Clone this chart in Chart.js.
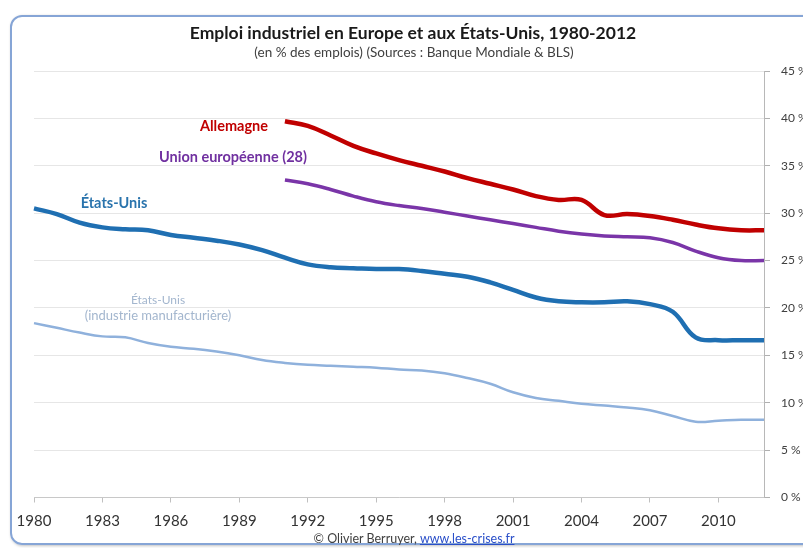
<!DOCTYPE html>
<html>
<head>
<meta charset="utf-8">
<script src="https://cdn.jsdelivr.net/npm/chart.js@4"></script>
<style>
    body { margin: 0; background: #fff; overflow: hidden; }
    #wrap { position: relative; width: 803px; height: 548px; overflow: hidden; }
    #frame {
        position: absolute; left: 10px; top: 15px; width: 840px; height: 526px;
        border: 2px solid #86a5d6; border-radius: 12px;
        box-shadow: 1px 1px 3px rgba(0, 0, 0, 0.25);
    }
    #chart { position: absolute; left: 0; top: 0; }
    #footer {
        position: absolute; left: 0; width: 828px; top: 531px; text-align: center;
        font: 12.5px Lato, sans-serif; color: #404040;
    }
    #footer a { color: #2a4fc9; text-decoration: underline; }
</style>
</head>
<body>
<div id="wrap">
    <div id="frame"></div>
    <canvas id="chart" width="803" height="548"></canvas>
    <div id="footer">© Olivier Berruyer, <a href="#">www.les-crises.fr</a></div>
</div>
<script>
// Years 1980-2012
const years = ['1980', '1981', '1982', '1983', '1984', '1985', '1986', '1987', '1988', '1989',
    '1990', '1991', '1992', '1993', '1994', '1995', '1996', '1997', '1998', '1999',
    '2000', '2001', '2002', '2003', '2004', '2005', '2006', '2007', '2008', '2009',
    '2010', '2011', '2012']

// Allemagne (from 1991)
const germany = [null, null, null, null, null, null, null, null, null, null, null,
    39.7, 39.2, 38.2, 37.1, 36.3, 35.6, 35.0, 34.4, 33.7, 33.1,
    32.5, 31.8, 31.4, 31.4, 29.8, 29.9, 29.7, 29.3, 28.8, 28.4, 28.2, 28.2]

// Union européenne (28) (from 1991)
const eu28 = [null, null, null, null, null, null, null, null, null, null, null,
    33.5, 33.1, 32.5, 31.8, 31.2, 30.8, 30.5, 30.1, 29.7, 29.3,
    28.9, 28.5, 28.1, 27.8, 27.6, 27.5, 27.4, 26.9, 26.0, 25.3, 25.0, 25.0]

// Etats-Unis (industrie)
const usIndustry = [30.5, 29.9, 29.0, 28.5, 28.3, 28.2, 27.7, 27.4, 27.1, 26.7,
    26.1, 25.3, 24.6, 24.3, 24.2, 24.1, 24.1, 23.9, 23.6, 23.3,
    22.7, 21.9, 21.1, 20.7, 20.6, 20.6, 20.7, 20.4, 19.6, 16.9, 16.6, 16.6, 16.6]

// Etats-Unis (industrie manufacturiere)
const usManuf = [18.4, 17.9, 17.4, 17.0, 16.9, 16.3, 15.9, 15.7, 15.4, 15.0,
    14.5, 14.2, 14.0, 13.9, 13.8, 13.7, 13.5, 13.4, 13.1, 12.6,
    12.0, 11.1, 10.5, 10.2, 9.9, 9.7, 9.5, 9.2, 8.6, 8.0, 8.1, 8.2, 8.2]

const title = 'Emploi industriel en Europe et aux États-Unis, 1980-2012'
const subtitle = '(en % des emplois) (Sources : Banque Mondiale & BLS)'

// texts drawn on the chart: [text, x, y, font, color]
const labels = [
    ['Allemagne', 234, 126, 'bold 14.5px Lato', '#c00000'],
    ['Union européenne (28)', 233, 157, 'bold 14.5px Lato', '#7030a0'],
    ['États-Unis', 114, 203, 'bold 14.5px Lato', '#2a74ad'],
    ['États-Unis', 158, 300, '12px Lato', '#a3b6ce'],
    ['(industrie manufacturière)', 158, 316, '13px Lato', '#a3b6ce']
]

const textPlugin = {
    id: 'texts',
    afterDraw(chart) {
        let ctx = chart.ctx
        ctx.save()
        ctx.textAlign = 'center'
        ctx.textBaseline = 'middle'
        ctx.fillStyle = '#1a1a1a'
        ctx.font = 'bold 17.5px Lato'
        ctx.fillText(title, 413, 33)
        ctx.fillStyle = '#404040'
        ctx.font = '13.5px Lato'
        ctx.fillText(subtitle, 414, 53)
        labels.forEach(function(l) {
            ctx.font = l[3]
            ctx.fillStyle = l[4]
            ctx.fillText(l[0], l[1], l[2])
        })
        ctx.restore()
    }
}

var ctx = document.getElementById('chart').getContext('2d')
var chart = new Chart(ctx, {
    type: 'line',
    data: {
        labels: years,
        datasets: [{
            label: 'Allemagne',
            data: germany,
            borderColor: '#c00000',
            borderWidth: 4.5
        }, {
            label: 'Union européenne (28)',
            data: eu28,
            borderColor: '#7a35a8',
            borderWidth: 3.5
        }, {
            label: 'États-Unis',
            data: usIndustry,
            borderColor: '#1f6fb2',
            borderWidth: 4.5
        }, {
            label: 'États-Unis (industrie manufacturière)',
            data: usManuf,
            borderColor: '#8fb1dc',
            borderWidth: 2.5
        }]
    },
    options: {
        responsive: false,
        animation: false,
        elements: {
            point: { radius: 0 },
            line: { tension: 0.4 }
        },
        layout: {
            padding: { top: 71, left: 34, right: 0, bottom: 0 }
        },
        plugins: {
            legend: { display: false },
            tooltip: { enabled: false }
        },
        scales: {
            x: {
                afterFit: function(scale) { scale.height = 50.5 },
                grid: {
                    drawOnChartArea: false,
                    tickLength: 5,
                    color: function(c) { return c.index % 3 === 0 ? '#c0c0c0' : 'rgba(0,0,0,0)' }
                },
                border: { color: '#c8c8c8' },
                ticks: {
                    autoSkip: false,
                    maxRotation: 0,
                    padding: 10,
                    color: '#333',
                    font: { family: 'Lato', size: 15 },
                    callback: function(v, i) { return i % 3 === 0 ? years[i] : '' }
                }
            },
            y: {
                position: 'right',
                min: 0,
                max: 45,
                afterFit: function(scale) { scale.width = 39 },
                grid: {
                    color: '#e6e6e6',
                    tickColor: '#b0b0b0',
                    tickLength: 6
                },
                border: { color: '#b8b8b8' },
                ticks: {
                    stepSize: 5,
                    padding: 11,
                    color: '#404040',
                    font: { family: 'Lato', size: 12 },
                    callback: function(v) { return v + ' %' }
                }
            }
        }
    },
    plugins: [textPlugin]
})
</script>
</body>
</html>
